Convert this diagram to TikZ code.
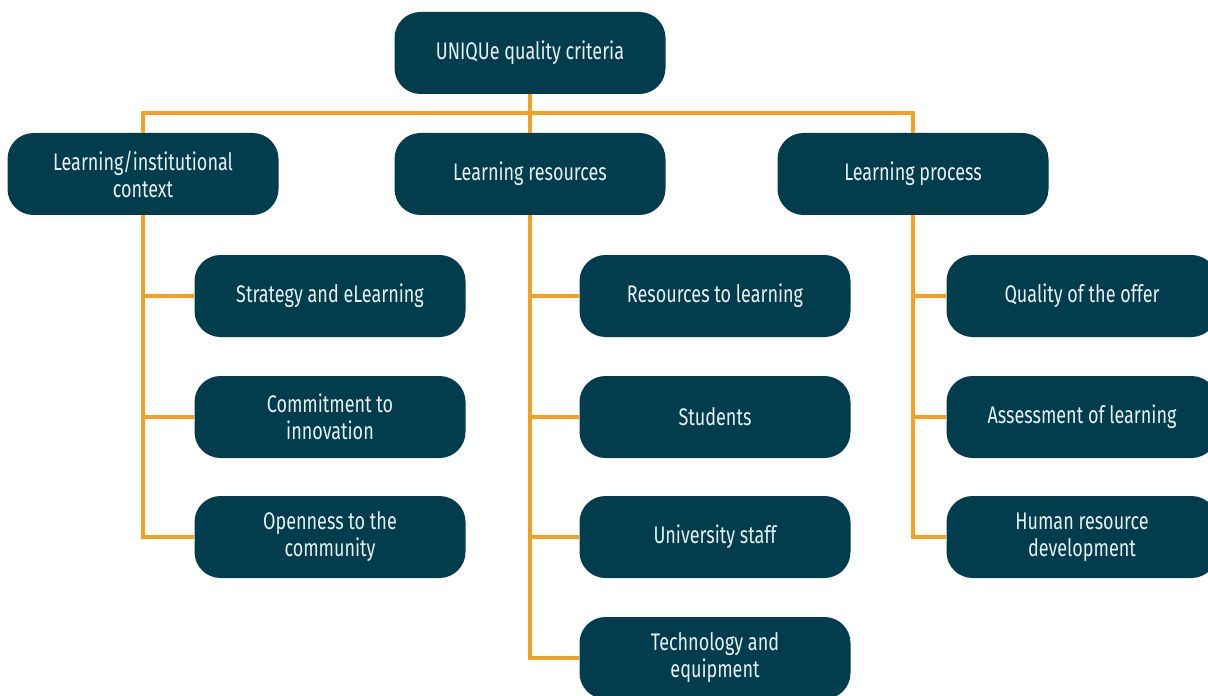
\documentclass[tikz,border=0pt]{standalone}
\usepackage{fontspec}
\setmainfont{Fira Sans}[FakeStretch=0.75]
\usepackage{tikz}
\usetikzlibrary{positioning}
\definecolor{teal}{HTML}{023D4D}
\definecolor{gold}{HTML}{F4A020}
\definecolor{paper}{HTML}{E8F0F2}

\begin{document}
\begin{tikzpicture}[x=0.5pt,y=-0.5pt]
    \tikzset{vertex/.style = {shape=rectangle,rounded corners=13pt,fill=teal,text=paper,align=center,
      minimum width=135.5pt,minimum height=41pt,inner sep=2pt,font=\fontsize{12}{13.5}\selectfont}}
    \tikzset{edge/.style = {draw=gold,line width=2pt}}
    \useasboundingbox (0,0) rectangle (1208,695);
    % vertices
    \node[vertex] (0) at (530,53)  {UNIQUe quality criteria};
    \node[vertex] (1) at (143,174) {Learning/institutional\\context};
    \node[vertex] (2) at (530,174) {Learning resources};
    \node[vertex] (3) at (913,174) {Learning process};
    \node[vertex] (4) at (330,296) {Strategy and eLearning};
    \node[vertex] (5) at (330,417) {Commitment to\\innovation};
    \node[vertex] (6) at (330,537) {Openness to the\\community};
    \node[vertex] (7) at (715,296) {Resources to learning};
    \node[vertex] (8) at (715,417) {Students};
    \node[vertex] (9) at (715,537) {University staff};
    \node[vertex] (10) at (715,658) {Technology and\\equipment};
    \node[vertex] (11) at (1082,296) {Quality of the offer};
    \node[vertex] (12) at (1082,417) {Assessment of learning};
    \node[vertex] (13) at (1082,537) {Human resource\\development};
    \coordinate (bar) at (530,113);
    % edges
    \draw[edge] (0) -- (bar);
    \draw[edge] (bar) -| (1);
    \draw[edge] (bar) -- (2);
    \draw[edge] (bar) -| (3);
    \draw[edge] (1) |- (4);
    \draw[edge] (1) |- (5);
    \draw[edge] (1) |- (6);
    \draw[edge] (2) |- (7);
    \draw[edge] (2) |- (8);
    \draw[edge] (2) |- (9);
    \draw[edge] (2) |- (10);
    \draw[edge] (3) |- (11);
    \draw[edge] (3) |- (12);
    \draw[edge] (3) |- (13);
\end{tikzpicture}
\end{document}
